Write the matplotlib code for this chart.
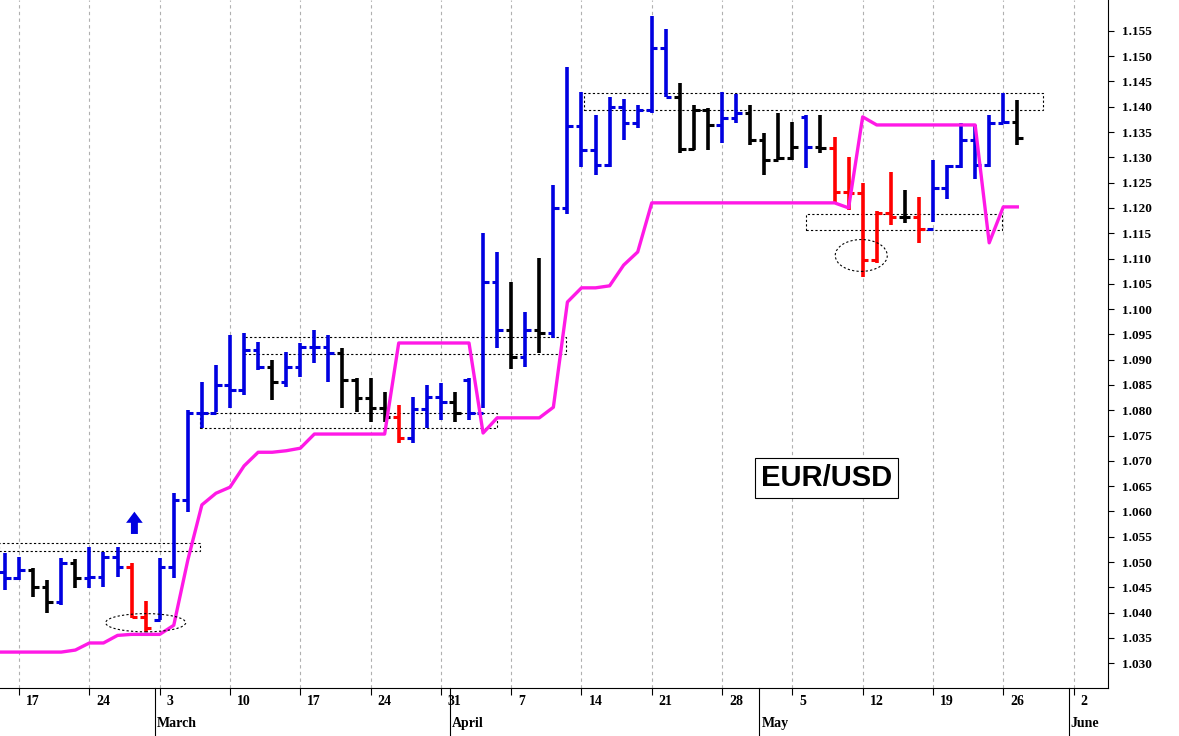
import numpy as np
import matplotlib.pyplot as plt
from matplotlib.patches import Rectangle, Ellipse

# trading days, Feb 14 .. May 27
days = [14, 17, 18, 19, 20, 21, 24, 25, 26, 27, 28,
        3, 4, 5, 6, 7, 10, 11, 12, 13, 14, 17, 18, 19, 20, 21, 24, 25, 26, 27, 28, 31,
        1, 2, 3, 4, 7, 8, 9, 10, 11, 14, 15, 16, 17, 18, 21, 22, 23, 24, 25, 28, 29, 30,
        1, 2, 5, 6, 7, 8, 9, 12, 13, 14, 15, 16, 19, 20, 21, 22, 23, 26, 27]

high = [1.0518, 1.0510, 1.0488, 1.0464, 1.0508, 1.0506, 1.0529, 1.0520, 1.0529, 1.0498, 1.0423,
        1.0508, 1.0636, 1.0800, 1.0856, 1.0889, 1.0949, 1.0953, 1.0935, 1.0899, 1.0915, 1.0933,
        1.0959, 1.0949, 1.0923, 1.0864, 1.0864, 1.0836, 1.0810, 1.0826, 1.0850, 1.0854,
        1.0836, 1.0864, 1.1150, 1.1113, 1.1054, 1.0994, 1.1101, 1.1245, 1.1479, 1.1429, 1.1384,
        1.1419, 1.1415, 1.1404, 1.1580, 1.1554, 1.1447, 1.1404, 1.1398, 1.1429, 1.1425, 1.1404,
        1.1348, 1.1388, 1.1370, 1.1384, 1.1384, 1.1340, 1.1301, 1.1249, 1.1194, 1.1271, 1.1236,
        1.1222, 1.1295, 1.1285, 1.1368, 1.1364, 1.1384, 1.1427, 1.1414]
low = [1.0444, 1.0464, 1.0431, 1.0399, 1.0415, 1.0448, 1.0448, 1.0450, 1.0470, 1.0389, 1.0361,
       1.0385, 1.0468, 1.0599, 1.0765, 1.0796, 1.0804, 1.0830, 1.0880, 1.0820, 1.0846, 1.0866,
       1.0893, 1.0856, 1.0804, 1.0796, 1.0777, 1.0777, 1.0735, 1.0735, 1.0765, 1.0781,
       1.0777, 1.0781, 1.0804, 1.0923, 1.0881, 1.0885, 1.0913, 1.0943, 1.1188, 1.1281, 1.1265,
       1.1281, 1.1334, 1.1358, 1.1388, 1.1419, 1.1309, 1.1315, 1.1315, 1.1328, 1.1368, 1.1325,
       1.1265, 1.1295, 1.1295, 1.1279, 1.1309, 1.1212, 1.1196, 1.1063, 1.1091, 1.1166, 1.1170,
       1.1131, 1.1172, 1.1218, 1.1279, 1.1257, 1.1281, 1.1368, 1.1325]
close = [1.0468, 1.0484, 1.0450, 1.0421, 1.0498, 1.0468, 1.0470, 1.0510, 1.0490, 1.0391, 1.0369,
         1.0490, 1.0622, 1.0794, 1.0794, 1.0850, 1.0840, 1.0919, 1.0885, 1.0856, 1.0885, 1.0925,
         1.0925, 1.0913, 1.0860, 1.0824, 1.0804, 1.0787, 1.0745, 1.0802, 1.0826, 1.0816,
         1.0794, 1.0794, 1.1054, 1.0959, 1.0905, 1.0959, 1.0953, 1.1200, 1.1362, 1.1315, 1.1285,
         1.1400, 1.1368, 1.1394, 1.1516, 1.1419, 1.1317, 1.1394, 1.1364, 1.1378, 1.1388, 1.1334,
         1.1295, 1.1299, 1.1321, 1.1321, 1.1319, 1.1232, 1.1230, 1.1097, 1.1190, 1.1182, 1.1182,
         1.1158, 1.1239, 1.1283, 1.1334, 1.1285, 1.1368, 1.1370, 1.1338]
opens = [1.0480, 1.0468, 1.0484, 1.0450, 1.0421, 1.0498, 1.0468, 1.0470, 1.0510, 1.0490, 1.0391,
         1.0385, 1.0490, 1.0622, 1.0794, 1.0794, 1.0850, 1.0840, 1.0919, 1.0885, 1.0856, 1.0885,
         1.0925, 1.0925, 1.0913, 1.0860, 1.0824, 1.0804, 1.0787, 1.0745, 1.0802, 1.0826,
         1.0816, 1.0860, 1.0794, 1.1054, 1.0959, 1.0905, 1.0959, 1.0953, 1.1200, 1.1362, 1.1315,
         1.1285, 1.1400, 1.1368, 1.1394, 1.1516, 1.1419, 1.1317, 1.1394, 1.1364, 1.1378, 1.1388,
         1.1334, 1.1295, 1.1299, 1.1380, 1.1321, 1.1319, 1.1232, 1.1230, 1.1097, 1.1190, 1.1182,
         1.1182, 1.1158, 1.1239, 1.1283, 1.1334, 1.1285, 1.1368, 1.1370]
bar_color = list("BBKKBKBBBRRBBBBBBBBKBBBBKKKKRBBBKBBBKBKB"
                 "BBBBBBBBKKKBBKKKKBKRRRRRKRBBBBBBK")

stop = [1.0322, 1.0322, 1.0322, 1.0322, 1.0322, 1.0326, 1.0340, 1.0340, 1.0355, 1.0357, 1.0357,
        1.0357, 1.0375, 1.0504, 1.0613, 1.0636, 1.0648, 1.0690, 1.0717, 1.0717, 1.0720, 1.0725,
        1.0753, 1.0753, 1.0753, 1.0753, 1.0753, 1.0753, 1.0933, 1.0933, 1.0933, 1.0933,
        1.0933, 1.0933, 1.0755, 1.0785, 1.0785, 1.0785, 1.0785, 1.0806, 1.1014, 1.1042, 1.1042,
        1.1046, 1.1087, 1.1113, 1.1210, 1.1210, 1.1210, 1.1210, 1.1210, 1.1210, 1.1210, 1.1210,
        1.1210, 1.1210, 1.1210, 1.1210, 1.1210, 1.1210, 1.1200, 1.1380, 1.1364, 1.1364, 1.1364,
        1.1364, 1.1364, 1.1364, 1.1364, 1.1364, 1.1131, 1.1202, 1.1202]

day_ticks = [1, 6, 11, 16, 21, 26, 31, 36, 41, 46, 51, 56, 61, 66, 71, 76]
day_labels = ["17", "24", "3", "10", "17", "24", "31", "7", "14", "21", "28", "5", "12", "19", "26", "2"]
month_pos = [11, 32, 54, 76]
month_labels = ["March", "April", "May", "June"]

colors = {"B": "#0000e0", "K": "black", "R": "#ff0000"}

fig = plt.figure(figsize=(11.79, 7.36), dpi=100)
ax = fig.add_axes([0, 1 - 688 / 736, 1108 / 1179, 688 / 736])

x = np.arange(len(high))
cols = [colors[c] for c in bar_color]
ax.vlines(x, low, high, colors=cols, lw=2.6, zorder=3)
ax.hlines(opens, x - 0.4, x, colors=cols, lw=2.2, zorder=3)
ax.hlines(close, x, x + 0.4, colors=cols, lw=2.2, zorder=3)

ax.plot(np.r_[-0.4, x], np.r_[stop[0], stop], color="#ff19e6", lw=2.4, zorder=4)

# dotted zones
zones = [(-0.4, 13.9, 1.0522, 1.0537), (17.0, 39.9, 1.0911, 1.0945), (13.9, 35.0, 1.0765, 1.0794),
         (41.2, 73.8, 1.1394, 1.1427), (57.0, 70.9, 1.1156, 1.1188)]
for x0, x1, y0, y1 in zones:
    ax.add_patch(Rectangle((x0, y0), x1 - x0, y1 - y0, fill=False, ec="black",
                           ls=(0, (2, 2)), lw=0.8, zorder=2))
ax.add_patch(Ellipse((10.0, 1.0380), 5.7, 0.0036, fill=False, ec="black", ls=(0, (2, 2)), lw=0.8, zorder=5))
ax.add_patch(Ellipse((60.9, 1.1106), 3.7, 0.0063, fill=False, ec="black", ls=(0, (2, 2)), lw=0.8, zorder=5))
ax.annotate("", xy=(9.2, 1.0605), xytext=(9.2, 1.0550),
            arrowprops=dict(arrowstyle="simple,head_width=1.2,head_length=0.8,tail_width=0.5",
                            color="#0000e0", lw=0))

ax.text(58.4, 1.0666, "EUR/USD", fontsize=21, fontweight="bold", ha="center", va="center",
        family="Liberation Sans", bbox=dict(boxstyle="square,pad=0.2", fc="white", ec="black", lw=0.8))

ax.set_xlim(-0.36, 78.45)
ax.set_ylim(1.0251, 1.1611)
for t in day_ticks:
    ax.axvline(t, color="#b0b0b0", ls=(0, (3, 3)), lw=0.8, zorder=1)

ax.yaxis.tick_right()
yt = np.round(np.arange(1.030, 1.1551, 0.005), 3)
ax.set_yticks(yt)
ax.set_yticklabels([f"{v:.3f}" for v in yt], fontsize=9.5, fontweight="bold", family="Liberation Serif")
ax.tick_params(axis="y", length=4, pad=6)
ax.set_xticks(day_ticks)
ax.set_xticklabels([])
ax.tick_params(axis="x", length=5)
xtr = ax.get_xaxis_transform()
for t, lab in zip(day_ticks, day_labels):
    ax.text(t + 0.5, -0.01, lab, transform=xtr, ha="left", va="top",
            fontsize=10, fontweight="bold", family="Liberation Serif")
for t, lab in zip(month_pos, month_labels):
    ax.plot([t - 0.35, t - 0.35], [0, -0.07], transform=xtr,
            color="black", lw=0.8, clip_on=False)
    ax.text(t - 0.2, -0.042, lab, transform=xtr, ha="left", va="top",
            fontsize=10, fontweight="bold", family="Liberation Serif")
for s in ["top", "left"]:
    ax.spines[s].set_visible(False)

fig.savefig("out.png", dpi=100)
